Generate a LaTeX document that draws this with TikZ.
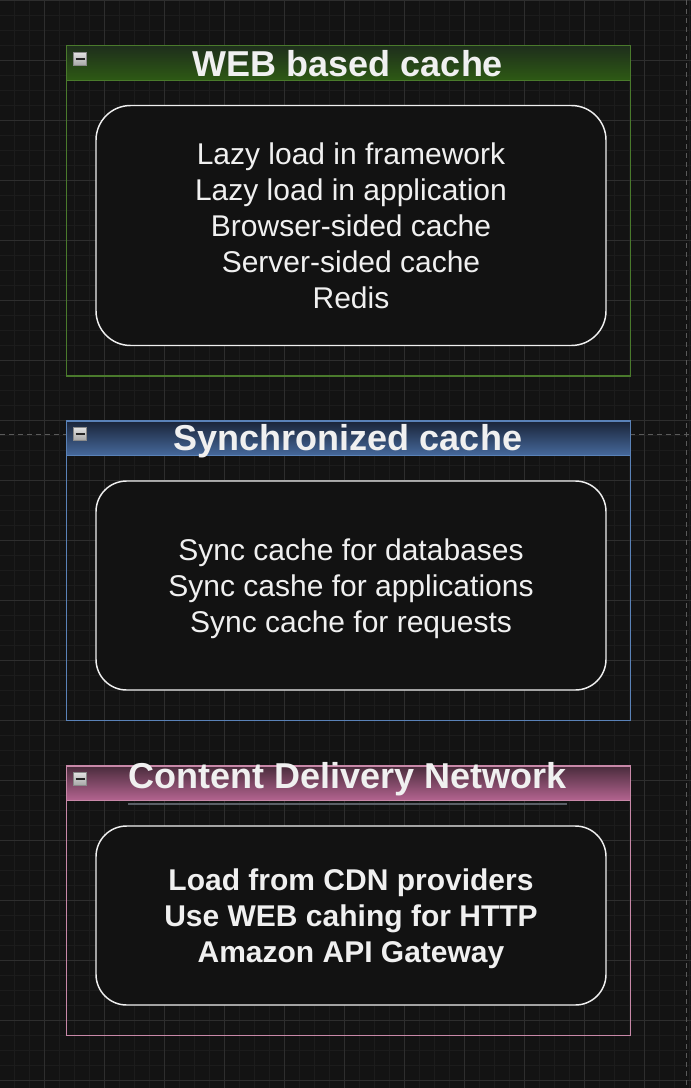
\documentclass[tikz,border=0pt]{standalone}
\usepackage{fontspec}
\setmainfont{Liberation Sans}
\definecolor{bg}{HTML}{131313}
\definecolor{gridminor}{HTML}{1C1C1C}
\definecolor{gridmajor}{HTML}{2E2E2E}
\definecolor{dashc}{HTML}{5A5A5A}
\definecolor{txt}{HTML}{F0F0F0}
\definecolor{innerfill}{HTML}{121212}
\definecolor{gtop}{HTML}{1E2E1C}
\definecolor{gbot}{HTML}{2E5A14}
\definecolor{gbord}{HTML}{4A7A2C}
\definecolor{btop}{HTML}{1A2438}
\definecolor{bbot}{HTML}{46699C}
\definecolor{bbord}{HTML}{5A82B8}
\definecolor{ptop}{HTML}{4A2C3C}
\definecolor{pbot}{HTML}{B46490}
\definecolor{pbord}{HTML}{C888A8}
\definecolor{sepline}{HTML}{5A5F66}
\definecolor{icontop}{HTML}{E2E2E2}
\definecolor{iconbot}{HTML}{A6A6A6}
\definecolor{iconbord}{HTML}{8A8A8A}
\begin{document}
\begin{tikzpicture}[x=0.75pt,y=-0.75pt,
  minorline/.style={gridminor,line width=0.75pt},
  majorline/.style={gridmajor,line width=0.75pt},
  guideline/.style={dashc,line width=0.75pt,dash pattern=on 3.75pt off 3pt},
  innerbox/.style={draw=txt,fill=innerfill,line width=1.1pt},
  titletext/.style={text=txt,font=\bfseries\fontsize{27pt}{32pt}\selectfont,inner sep=0pt,anchor=base},
  bodytext/.style={text=txt,font=\fontsize{22.5pt}{27pt}\selectfont,align=center,inner sep=0pt},
  boldbody/.style={bodytext,font=\bfseries\fontsize{22.5pt}{27pt}\selectfont},
  icon/.style={draw=iconbord,top color=icontop,bottom color=iconbot,line width=0.75pt},
  iconminus/.style={draw=black!85,line width=1.5pt}
]
\useasboundingbox (0,0) rectangle (691,1088);
\fill[bg] (0,0) rectangle (691,1088);
% grid
\foreach \gx in {-1,14,...,691} {\draw[minorline] (\gx,0) -- (\gx,1088);}
\foreach \gy in {0.5,15.5,...,1088} {\draw[minorline] (0,\gy) -- (691,\gy);}
\foreach \gx in {44,104,...,691} {\draw[majorline] (\gx,0) -- (\gx,1088);}
\foreach \gy in {0.5,60.5,...,1088} {\draw[majorline] (0,\gy) -- (691,\gy);}
% guides
\draw[guideline] (0,434) -- (691,434);
\draw[guideline] (686,0) -- (686,1088);

% ---------- WEB based cache ----------
\draw[gbord,line width=0.9pt] (66.5,80.5) rectangle (630.5,376);
\shade[top color=gtop,bottom color=gbot] (66.5,45.5) rectangle (630.5,80.5);
\draw[gbord,line width=1pt] (66.5,45.5) rectangle (630.5,80.5);
\draw[icon] (73,52.5) rectangle (86.5,65.5);
\draw[iconminus] (75.5,59) -- (84.5,59);
\node[titletext] (webtitle) at (348,76) {WEB based cache};
\draw[innerbox,rounded corners=26pt] (96,105.5) rectangle (606,345.5);
\node[bodytext] (webtext) at (351,226) {Lazy load in framework\\Lazy load in application\\Browser-sided cache\\Server-sided cache\\Redis};

% ---------- Synchronized cache ----------
\draw[bbord,line width=0.9pt] (66.5,455.5) rectangle (630.5,720.5);
\shade[top color=btop,bottom color=bbot] (66.5,421) rectangle (630.5,455.5);
\draw[bbord,line width=1pt] (66.5,421) rectangle (630.5,455.5);
\draw[icon] (73,427.5) rectangle (86.5,440.5);
\draw[iconminus] (75.5,434) -- (84.5,434);
\node[titletext] (synctitle) at (348,450) {Synchronized cache};
\draw[innerbox,rounded corners=23pt] (96,481) rectangle (606,690);
\node[bodytext] (synctext) at (351,589) {Sync cache for databases\\Sync cashe for applications\\Sync cache for requests};

% ---------- Content Delivery Network ----------
\draw[pbord,line width=0.9pt] (66.5,800.5) rectangle (630.5,1035.5);
\shade[top color=ptop,bottom color=pbot] (66.5,766) rectangle (630.5,800.5);
\draw[pbord,line width=1pt] (66.5,766) rectangle (630.5,800.5);
\draw[icon] (73,772.5) rectangle (86.5,785.5);
\draw[iconminus] (75.5,779) -- (84.5,779);
\node[titletext] (cdntitle) at (348,788) {Content Delivery Network};
\draw[sepline,line width=0.9pt] (128,804) -- (567,804);
\draw[innerbox,rounded corners=23pt] (96,826) rectangle (606,1005);
\node[boldbody] (cdntext) at (351,919) {Load from CDN providers\\Use WEB cahing for HTTP\\Amazon API Gateway};
\end{tikzpicture}
\end{document}
